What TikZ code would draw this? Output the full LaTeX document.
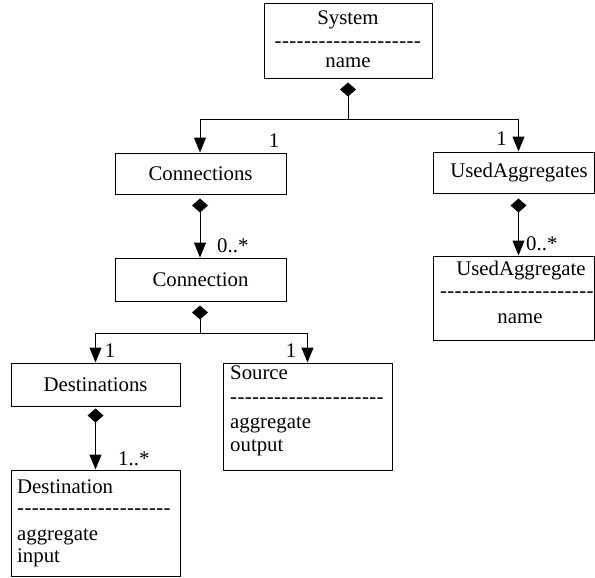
\documentclass[tikz,border=0pt]{standalone}
\usepackage{fontspec}
\setmainfont{Liberation Serif}
\usetikzlibrary{arrows.meta}
\newcommand\mydashes[1]{\foreach \i in {1,...,#1}{-\kern0.4pt}}
\begin{document}
\begin{tikzpicture}[x=1pt,y=-1pt,
  font=\fontsize{20.8}{23}\selectfont,
  box/.style={draw, line width=1pt, inner sep=0pt},
  txt/.style={anchor=base, inner sep=0pt},
  ltxt/.style={anchor=base west, inner sep=0pt},
  conn/.style={line width=1pt},
  dia/.style={conn, {Diamond[length=14pt,width=16pt]}-},
  arr/.style={conn, -{Triangle[length=15pt,width=12pt]}},
  diaarr/.style={conn, {Diamond[length=14pt,width=16pt]}-{Triangle[length=15pt,width=12pt]}}]
\useasboundingbox (0,0) rectangle (595,578);

% boxes
\node[box, minimum width=168, minimum height=75] (sys) at (348,41.5) {};
\node[box, minimum width=171, minimum height=41] (conns) at (200.5,173.5) {Connections};
\node[box, minimum width=161, minimum height=41] (uaggs) at (513.5,172.5) {};
\node[box, minimum width=171, minimum height=43] (cn) at (200.5,279.5) {Connection};
\node[box, minimum width=161, minimum height=84] (uagg) at (513.5,298) {};
\node[box, minimum width=169, minimum height=43] (dests) at (95.5,384.5) {Destinations};
\node[box, minimum width=169, minimum height=107] (src) at (307.5,416.5) {};
\node[box, minimum width=169, minimum height=106] (dest) at (95.5,523) {};

% texts
\node[txt] (sysT) at (348,25) {System};
\node[txt] (sysD) at (348,47.6) {\mydashes{20}};
\node[txt] (sysN) at (348,68) {name};
\node[txt] (uaggsT) at (519,177) {UsedAggregates};
\node[txt] (uaggT) at (521,275) {UsedAggregate};
\node[txt] (uaggD) at (517,297.6) {\mydashes{21}};
\node[txt] (uaggN) at (520,323) {name};
\node[ltxt] (srcT) at (230,379) {Source};
\node[ltxt] (srcD) at (230,403.6) {\mydashes{21}};
\node[ltxt] (srcA) at (230,428) {aggregate};
\node[ltxt] (srcO) at (230,451) {output};
\node[ltxt] (destT) at (17,493) {Destination};
\node[ltxt] (destD) at (17,514.6) {\mydashes{21}};
\node[ltxt] (destA) at (17,540) {aggregate};
\node[ltxt] (destI) at (17,562) {input};

% multiplicities
\node[txt] (m1) at (274,147) {1};
\node[txt] (m2) at (501.5,146) {1};
\node[ltxt] (m3) at (217,252) {0..*};
\node[ltxt] (m4) at (526,250) {0..*};
\node[txt] (m5) at (110,357) {1};
\node[txt] (m6) at (291,357) {1};
\node[ltxt] (m7) at (118,465) {1..*};

% connectors
\draw[dia] ([yshift=-3pt]sys.south) -- (348,120) coordinate (j1);
\draw[arr] (j1) -| ([xshift=-0.5pt]conns.north);
\draw[arr] (j1) -| ([xshift=5pt]uaggs.north);
\draw[diaarr] ([xshift=-0.5pt,yshift=-4pt]conns.south) -- ([xshift=-0.5pt]cn.north);
\draw[diaarr] ([xshift=5pt,yshift=-5pt]uaggs.south) -- ([xshift=5pt]uagg.north);
\draw[dia] ([xshift=-0.5pt,yshift=-4pt]cn.south) -- (200,333) coordinate (j2);
\draw[arr] (j2) -| (dests.north);
\draw[arr] (j2) -| (src.north);
\draw[diaarr] ([yshift=-2pt]dests.south) -- (dest.north);
\end{tikzpicture}
\end{document}
